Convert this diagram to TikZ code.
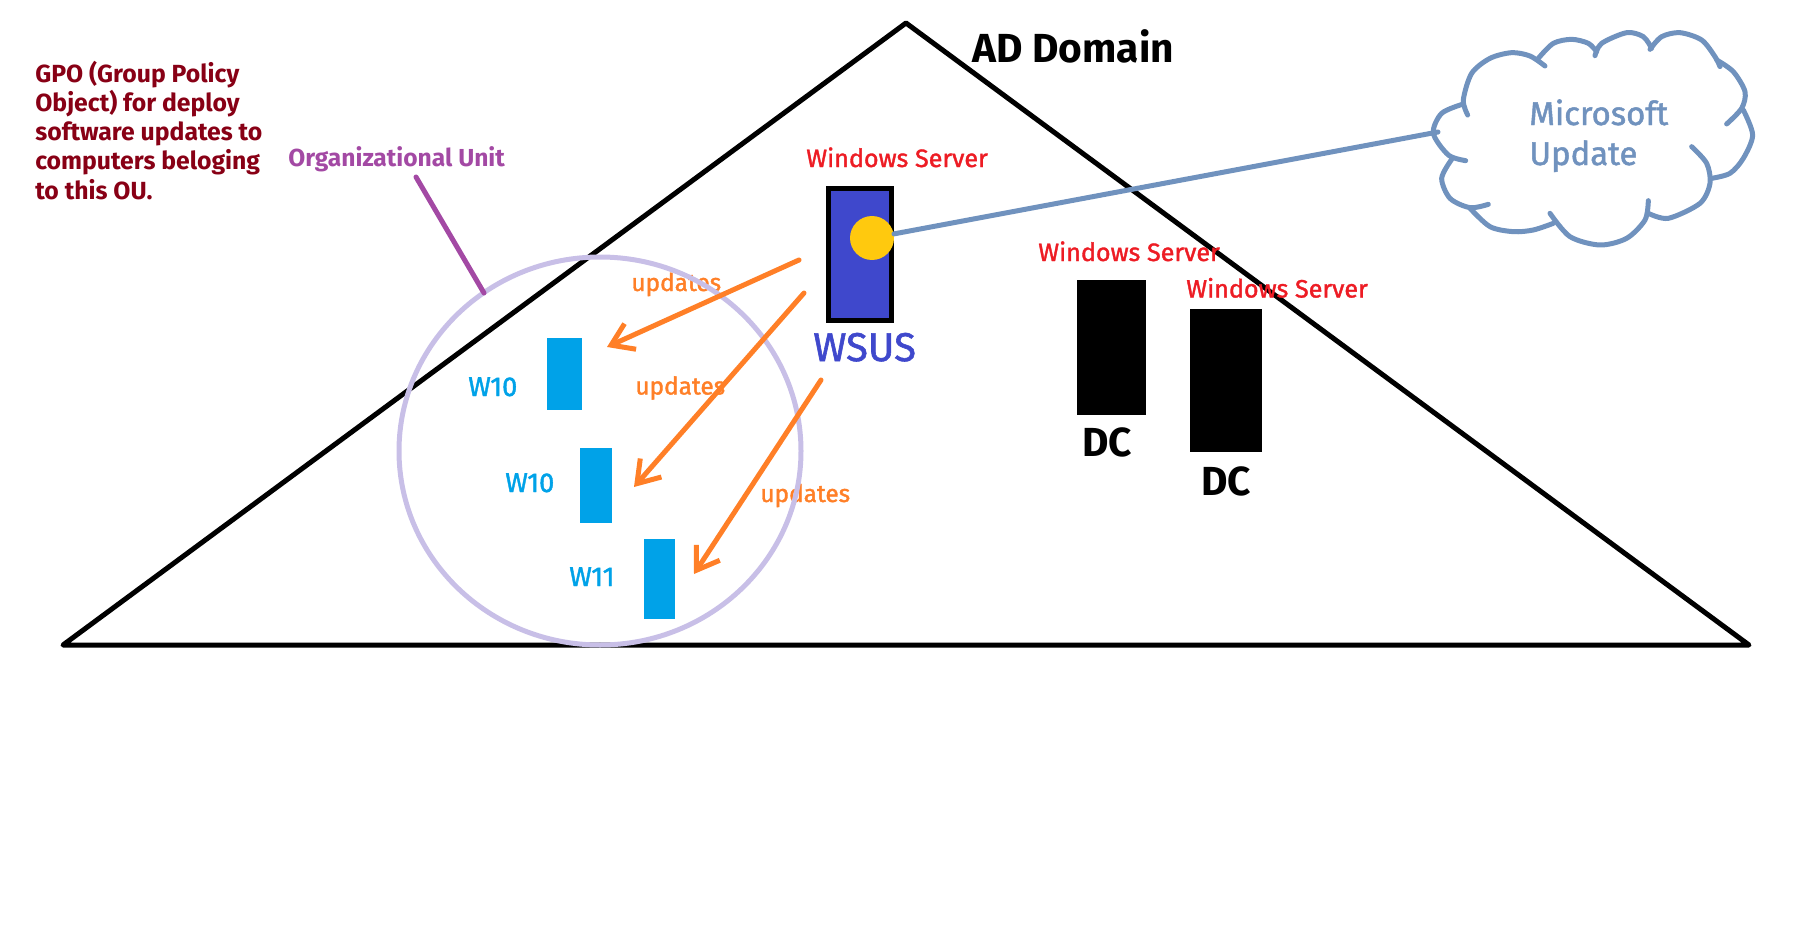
\documentclass[tikz,border=0pt]{standalone}
\usepackage{fontspec}
\usepackage{xcolor}
\setmainfont{Fira Sans}
\newfontfamily\medfont[FakeBold=1.5]{Fira Sans}
\usetikzlibrary{arrows.meta}
\definecolor{wsusblue}{HTML}{3F48CC}
\definecolor{pcblue}{HTML}{00A2E8}
\definecolor{ourim}{HTML}{C8BFE7}
\definecolor{oulabel}{HTML}{A349A4}
\definecolor{gpored}{HTML}{880015}
\definecolor{srvred}{HTML}{ED1C24}
\definecolor{updorange}{HTML}{FF7F27}
\definecolor{sunyellow}{HTML}{FFC90E}
\definecolor{cloudblue}{HTML}{7092BE}
\tikzset{
  lbl/.style={inner sep=0pt, anchor=base west},
  srvlbl/.style={lbl, text=srvred, font=\fontsize{14.3}{16}\medfont},
  updlbl/.style={lbl, text=updorange, font=\fontsize{13.9}{16}\medfont},
  pclbl/.style={lbl, text=pcblue, font=\fontsize{15.5}{16}\medfont},
  biglbl/.style={lbl, text=black, font=\fontsize{23.1}{25}\selectfont\bfseries},
  pcbox/.style={fill=pcblue, inner sep=0pt},
  dcbox/.style={fill=black, inner sep=0pt},
  updarrow/.style={updorange, line width=0.1cm, line cap=round, -{Straight Barb[length=12pt,width=16pt]}},
  cloudline/.style={cloudblue, line width=0.1cm, line cap=round}
}
\begin{document}
\begin{tikzpicture}[x=0.02cm, y=-0.02cm]
  \useasboundingbox (0,0) rectangle (1809,950);
  \coordinate (apex) at (906,23);
  \coordinate (lft) at (63,645);
  \coordinate (rgt) at (1749,645);
  \draw[line width=0.1cm, line join=round] (apex) -- (lft) -- (rgt) -- cycle;
  \node[biglbl] (domain) at (972,62) {AD Domain};

  \node[lbl, text=gpored, align=left, anchor=north west, font=\fontsize{14.1}{16.57}\selectfont\bfseries] (gpo) at (35,61)
    {GPO (Group Policy\\Object) for deploy\\software updates to\\computers beloging\\to this OU.};
  \node[lbl, text=oulabel, font=\fontsize{14}{16}\selectfont\bfseries] (oulbl) at (288,166) {Organizational Unit};

  \node[updlbl] (updone) at (631,291) {updates};
  \node[updlbl] (updtwo) at (635,394.5) {updates};
  \node[updlbl] (updthree) at (760,502) {updates};

  \draw[ourim, line width=0.1cm] (600,451) ellipse (201 and 194);
  \coordinate (oustart) at (416,177);
  \coordinate (ouend) at (484,293);
  \draw[oulabel, line width=0.1cm, line cap=round] (oustart) -- (ouend);

  \node[pcbox, minimum width=0.70cm, minimum height=1.44cm] (pca) at (564.5,374) {};
  \node[pcbox, minimum width=0.64cm, minimum height=1.50cm] (pcb) at (596,485.5) {};
  \node[pcbox, minimum width=0.62cm, minimum height=1.60cm] (pcc) at (659.5,579) {};
  \node[pclbl] (wa) at (468,396) {W10};
  \node[pclbl] (wb) at (505,492) {W10};
  \node[pclbl] (wc) at (569,586) {W11};

  \node[draw=black, fill=wsusblue, line width=0.1cm, inner sep=0pt, minimum width=1.26cm, minimum height=2.64cm] (wsus) at (860,254.5) {};
  \node[circle, fill=sunyellow, inner sep=0pt, minimum size=0.88cm] (dot) at (872,238) {};
  \node[lbl, text=wsusblue, font=\fontsize{22.8}{25}\medfont] (wsuslbl) at (813,361) {WSUS};
  \node[srvlbl] (srva) at (806,167) {Windows Server};

  \node[dcbox, minimum width=1.38cm, minimum height=2.70cm] (dca) at (1111.5,347.5) {};
  \node[dcbox, minimum width=1.44cm, minimum height=2.86cm] (dcb) at (1226,380.5) {};
  \node[srvlbl] (srvb) at (1038,261) {Windows Server};
  \node[srvlbl] (srvc) at (1186,297.5) {Windows Server};
  \node[biglbl] (dclbla) at (1082,456) {DC};
  \node[biglbl] (dclblb) at (1201,495) {DC};

  \coordinate (fromone) at (799,260);
  \coordinate (toone) at (607,347);
  \coordinate (fromtwo) at (804,293);
  \coordinate (totwo) at (634,487);
  \coordinate (fromthree) at (821,380);
  \coordinate (tothree) at (694,574);
  \draw[updarrow] (fromone) -- (toone);
  \draw[updarrow] (fromtwo) -- (totwo);
  \draw[updarrow] (fromthree) -- (tothree);

  \coordinate (msu) at (1438,132);
  \draw[cloudline] (dot) -- (msu);
  \begin{scope}[shift={(1400,10)}, x=0.00667cm, y=-0.00667cm]
    \draw[cloudline] plot[smooth] coordinates {(203,315) (190,270) (215,190) (270,145) (335,128) (390,138) (435,168)};
    \draw[cloudline] plot[smooth] coordinates {(415,145) (460,100) (515,88) (565,100) (590,125)};
    \draw[cloudline] plot[smooth] coordinates {(585,137) (605,100) (680,68) (730,80) (755,115)};
    \draw[cloudline] plot[smooth] coordinates {(750,118) (785,80) (840,68) (905,90) (945,140) (960,170)};
    \draw[cloudline] plot[smooth] coordinates {(950,150) (1000,185) (1035,245) (1025,295) (980,342)};
    \draw[cloudline] plot[smooth] coordinates {(1030,300) (1058,375) (1030,445) (990,490) (935,505)};
    \draw[cloudline] plot[smooth] coordinates {(875,410) (920,460) (930,520) (900,580) (805,625) (745,610)};
    \draw[cloudline] plot[smooth] coordinates {(745,572) (735,630) (680,685) (600,705) (510,680) (450,610)};
    \draw[cloudline] plot[smooth] coordinates {(460,640) (400,660) (340,665) (270,650) (210,595)};
    \draw[cloudline] plot[smooth] coordinates {(265,583) (210,593) (150,565) (125,505) (155,448)};
    \draw[cloudline] plot[smooth] coordinates {(197,452) (145,435) (100,370) (125,310) (190,282)};
  \end{scope}
  \node[lbl, text=cloudblue, font=\fontsize{18.7}{21}\medfont] (msa) at (1529,125) {Microsoft};
  \node[lbl, text=cloudblue, font=\fontsize{18.7}{21}\medfont] (msb) at (1529,165) {Update};
\end{tikzpicture}
\end{document}
